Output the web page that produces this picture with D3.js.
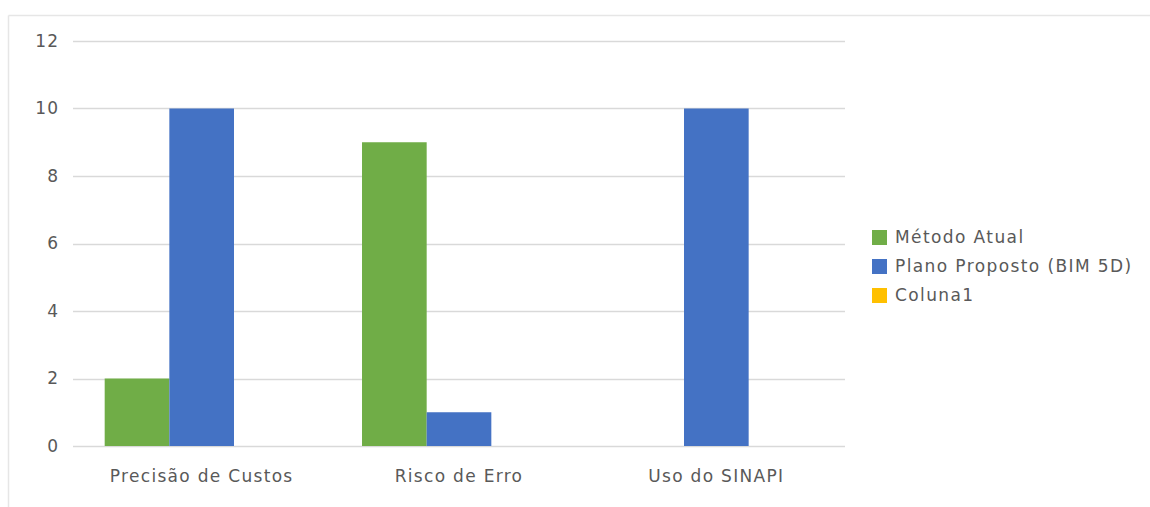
<!DOCTYPE html>
<html><head><meta charset="utf-8">
<script src="https://cdn.jsdelivr.net/npm/d3@7"></script>
<style>
html,body{margin:0;padding:0;background:#fff;}
svg{display:block;font-family:"DejaVu Sans",sans-serif;}
</style></head>
<body>
<svg id="chart" width="1150" height="507"></svg>
<script>
const categories = ["Precisão de Custos", "Risco de Erro", "Uso do SINAPI"];
const seriesNames = ["Método Atual", "Plano Proposto (BIM 5D)", "Coluna1"];
const metodoAtual = [2, 9, 0];
const planoProposto = [10, 1, 10];
const coluna1 = [0, 0, 0];
const yTicks = [0, 2, 4, 6, 8, 10, 12];
const colors = ["#70ad47", "#4472c4", "#ffc000"];

const seriesValues = [metodoAtual, planoProposto, coluna1];
const svg = d3.select("#chart");
const FONT = "'DejaVu Sans',sans-serif";
const FS = 17;

svg.append("line").attr("x1", 8.5).attr("x2", 1150).attr("y1", 15.5).attr("y2", 15.5).attr("stroke", "#e6e6e6").attr("stroke-width", 1.5);
svg.append("line").attr("x1", 8.5).attr("x2", 8.5).attr("y1", 15.5).attr("y2", 507).attr("stroke", "#e6e6e6").attr("stroke-width", 1.5);

const x0 = d3.scaleBand().domain(categories).range([73, 845]).paddingInner(0).paddingOuter(0);
const x1 = d3.scaleBand().domain(seriesNames).range([0, x0.bandwidth()]).paddingInner(0).paddingOuter(0.49);
const y = d3.scaleLinear().domain([0, 12]).range([446, 41]);

svg.append("g").selectAll("line").data(yTicks).join("line")
  .attr("x1", 73).attr("x2", 845)
  .attr("y1", d => Math.round(y(d)) + 0.5).attr("y2", d => Math.round(y(d)) + 0.5)
  .attr("stroke", "#d9d9d9").attr("stroke-width", 1.5);

const yAxis = d3.axisLeft(y).tickValues(yTicks).tickSize(0).tickPadding(0);
const gy = svg.append("g").attr("transform", "translate(59,0)").call(yAxis);
gy.select(".domain").remove();
gy.selectAll("text").attr("fill", "#595959").attr("font-size", FS).attr("font-family", FONT)
  .attr("letter-spacing", "1px");

const groups = svg.append("g").selectAll("g").data(categories).join("g")
  .attr("transform", d => `translate(${x0(d)},0)`);
groups.selectAll("rect").data((c, ci) => seriesNames.map((s, si) => ({s, si, v: seriesValues[si][ci]})))
  .join("rect")
  .attr("x", d => x1(d.s))
  .attr("width", x1.bandwidth())
  .attr("y", d => y(d.v))
  .attr("height", d => y(0) - y(d.v))
  .attr("fill", d => colors[d.si]);

const xAxis = d3.axisBottom(x0).tickSize(0).tickPadding(0);
const gx = svg.append("g").attr("transform", "translate(0,470)").call(xAxis);
gx.select(".domain").remove();
gx.selectAll("text").attr("fill", "#595959").attr("font-size", FS).attr("font-family", FONT)
  .attr("letter-spacing", "1.3px");

const legend = svg.append("g").selectAll("g").data(seriesNames).join("g")
  .attr("transform", (d, i) => `translate(872,${230 + i * 29})`);
legend.append("rect").attr("width", 15).attr("height", 15).attr("fill", (d, i) => colors[i]);
legend.append("text").attr("x", 23).attr("y", 7.5).attr("dy", "0.35em")
  .attr("fill", "#595959").attr("font-size", FS).attr("font-family", FONT)
  .attr("letter-spacing", "1.4px").text(d => d);
</script>
</body></html>
